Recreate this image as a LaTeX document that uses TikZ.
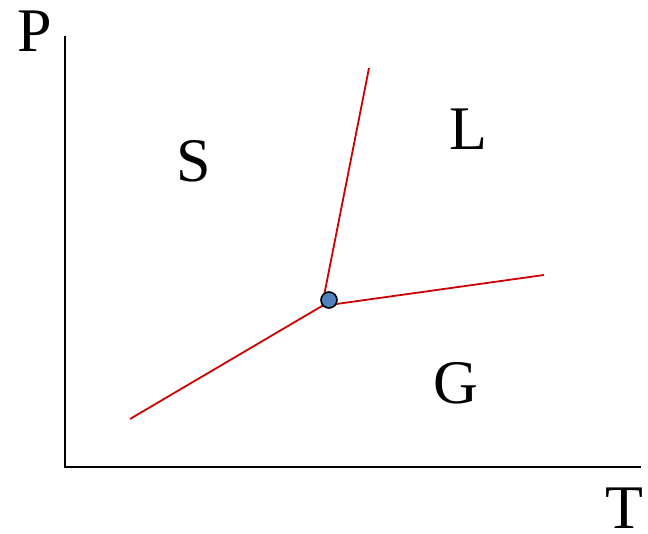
\documentclass[tikz,border=0pt]{standalone}
\usepackage{fontspec}
\setmainfont{Liberation Serif}
\definecolor{lineRed}{RGB}{204,0,0}
\definecolor{dotBlue}{RGB}{79,129,189}
\begin{document}
\begin{tikzpicture}[x=1pt,y=-1pt,
  axis/.style={line width=2pt,black},
  phase/.style={line width=1.8pt,lineRed},
  lbl/.style={font=\fontsize{62}{62}\selectfont,inner sep=0pt,anchor=base}]
\useasboundingbox (0,0) rectangle (648,534);
\coordinate (origin) at (65,467);
\coordinate (ytop) at (65,36);
\coordinate (xend) at (641,467);
\draw[axis] (ytop) -- (origin) -- (xend);
\coordinate (tp) at (322,306);
\coordinate (sublow) at (130,419);
\coordinate (fustop) at (369,68);
\coordinate (vapend) at (544,275);
\draw[phase] (sublow) -- (tp);
\draw[phase] (tp) -- (fustop);
\draw[phase] (tp) -- (vapend);
\node[circle,draw=black,line width=1.6pt,fill=dotBlue,minimum size=16pt,inner sep=0pt] (dot) at (329,300) {};
\node[lbl] (P) at (35,52) {P};
\node[lbl] (T) at (624,528) {T};
\node[lbl] (S) at (194,182) {S};
\node[lbl] (L) at (468,150) {L};
\node[lbl] (G) at (456,404) {G};
\end{tikzpicture}
\end{document}
